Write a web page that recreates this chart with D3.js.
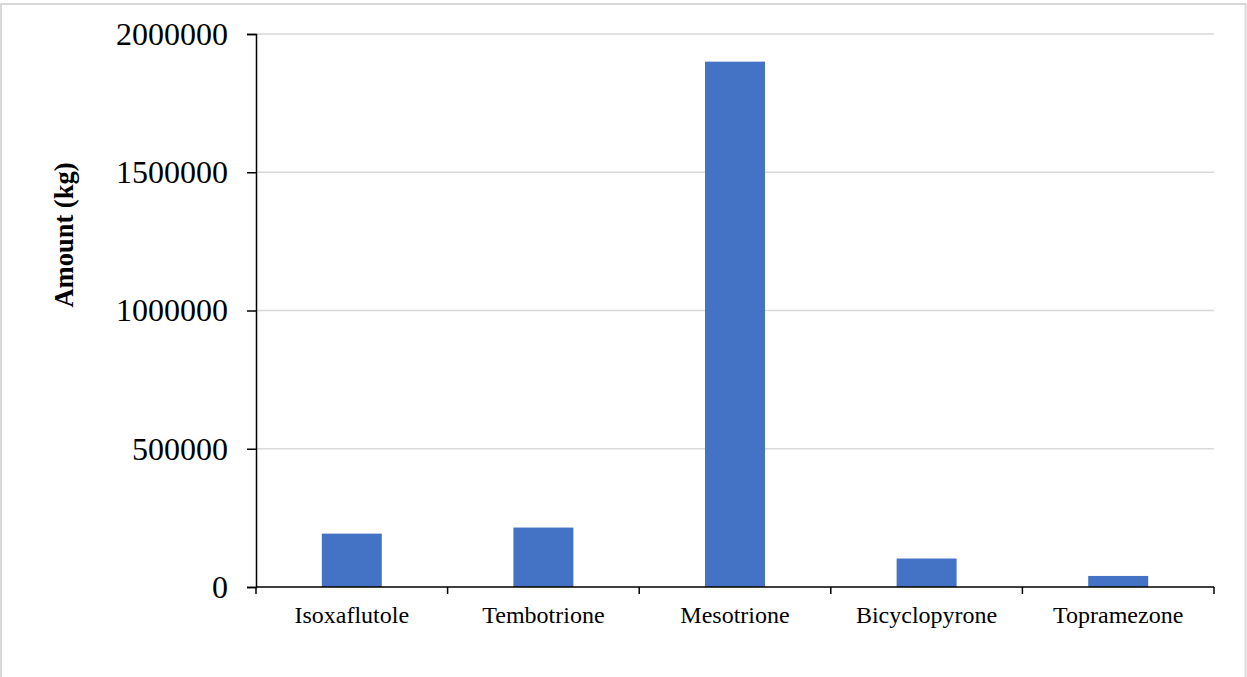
<!DOCTYPE html>
<html>
<head>
<meta charset="utf-8">
<script src="https://cdn.jsdelivr.net/npm/d3@7"></script>
<style>
  html, body { margin: 0; padding: 0; background: #fff; }
  svg { display: block; }
</style>
</head>
<body>
<svg id="chart" width="1247" height="677"></svg>
<script>
// HPPD-inhibitor herbicide use by active ingredient
const categories = ["Isoxaflutole", "Tembotrione", "Mesotrione", "Bicyclopyrone", "Topramezone"];
const amounts = [193000, 215000, 1900000, 103000, 40000];
const yTicks = [0, 500000, 1000000, 1500000, 2000000];
const yTitle = "Amount (kg)";

const svg = d3.select("#chart");
const plot = { left: 256, right: 1214, top: 34, bottom: 587 };
const serif = "'Liberation Serif', 'Times New Roman', serif";

// chart frame
svg.append("rect")
  .attr("x", 1).attr("y", 4)
  .attr("width", 1244.5).attr("height", 700)
  .attr("fill", "#fff")
  .attr("stroke", "#d9d9d9")
  .attr("stroke-width", 2);

const x = d3.scaleBand()
  .domain(categories)
  .range([plot.left, plot.right])
  .paddingInner(0.687)
  .paddingOuter(0.3435);

const y = d3.scaleLinear()
  .domain([0, 2000000])
  .range([plot.bottom, plot.top]);

// horizontal gridlines
svg.append("g")
  .selectAll("line")
  .data(yTicks.filter(d => d > 0))
  .join("line")
  .attr("x1", plot.left).attr("x2", plot.right)
  .attr("y1", d => y(d)).attr("y2", d => y(d))
  .attr("stroke", "#d9d9d9")
  .attr("stroke-width", 1.5);

// bars
svg.append("g")
  .selectAll("rect")
  .data(categories.map((c, i) => ({ c, v: amounts[i] })))
  .join("rect")
  .attr("x", d => x(d.c))
  .attr("width", x.bandwidth())
  .attr("y", d => y(d.v))
  .attr("height", d => y(0) - y(d.v))
  .attr("fill", "#4472c4");

// y axis
const yAxis = svg.append("g")
  .attr("transform", `translate(${plot.left},0)`)
  .call(d3.axisLeft(y).tickValues(yTicks).tickFormat(d3.format("d")).tickSize(9).tickPadding(19));
yAxis.select(".domain").attr("stroke", "#000").attr("stroke-width", 1.5);
yAxis.selectAll(".tick line").attr("stroke", "#000").attr("stroke-width", 1.5);
yAxis.selectAll(".tick text")
  .attr("font-family", serif)
  .attr("font-size", 32)
  .attr("fill", "#000");

// x axis: baseline with ticks at category boundaries
const step = x.step();
const boundaries = d3.range(categories.length + 1).map(i => plot.left + i * step);
const xAxis = svg.append("g");
xAxis.append("line")
  .attr("x1", plot.left).attr("x2", plot.right)
  .attr("y1", plot.bottom).attr("y2", plot.bottom)
  .attr("stroke", "#000").attr("stroke-width", 1.5);
xAxis.selectAll("line.tk")
  .data(boundaries)
  .join("line")
  .attr("class", "tk")
  .attr("x1", d => d).attr("x2", d => d)
  .attr("y1", plot.bottom).attr("y2", plot.bottom + 7)
  .attr("stroke", "#000").attr("stroke-width", 1.5);
xAxis.selectAll("text")
  .data(categories)
  .join("text")
  .attr("x", d => x(d) + x.bandwidth() / 2)
  .attr("y", 623)
  .attr("text-anchor", "middle")
  .attr("font-family", serif)
  .attr("font-size", 24)
  .attr("fill", "#000")
  .text(d => d);

// y axis title
svg.append("text")
  .attr("transform", `translate(73,235) rotate(-90)`)
  .attr("text-anchor", "middle")
  .attr("font-family", serif)
  .attr("font-weight", "bold")
  .attr("font-size", 26.5)
  .attr("fill", "#000")
  .text(yTitle);
</script>
</body>
</html>
